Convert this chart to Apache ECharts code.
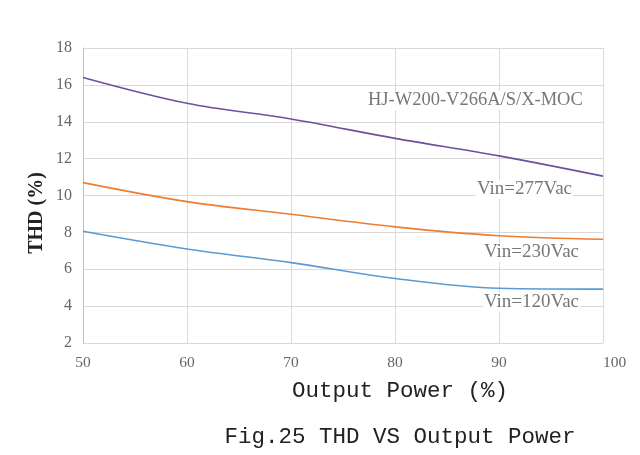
<!DOCTYPE html>
<html><head><meta charset="utf-8">
<script src="https://cdn.jsdelivr.net/npm/echarts@6/dist/echarts.min.js"></script>
<style>html,body{margin:0;padding:0;background:#fff}#c{width:640px;height:455px}</style>
</head><body><div id="c"></div>
<script>
const power = [50, 60, 70, 80, 90, 100];
const thd277 = [16.4, 15.0, 14.15, 13.1, 12.15, 11.05];
const thd230 = [10.7, 9.67, 8.98, 8.3, 7.82, 7.63];
const thd120 = [8.06, 7.1, 6.36, 5.5, 4.97, 4.92];
const seriesNames = ['Vin=277Vac', 'Vin=230Vac', 'Vin=120Vac'];
const modelName = 'HJ-W200-V266A/S/X-MOC';
const xTitle = 'Output Power (%)';
const yTitle = 'THD (%)';
const caption = 'Fig.25 THD VS Output Power';

const chart = echarts.init(document.getElementById('c'));
const pairs = arr => power.map((p, i) => [p, arr[i]]);
const mk = (name, data, color) => ({
  name, type: 'line', smooth: 0.35, symbol: 'none', data: pairs(data),
  lineStyle: { color, width: 1.6 }, z: 3
});
const serif = 'Liberation Serif';
const note = (text, left, top, size) => ({
  type: 'text', left, top, z: 10,
  style: { text, fill: '#777', font: size + 'px "Liberation Serif"', backgroundColor: '#fff', padding: [0, 1] }
});
chart.setOption({
  animation: false,
  backgroundColor: '#fff',
  grid: { left: 83, right: 37, top: 48, bottom: 112 },
  xAxis: {
    type: 'value', min: 50, max: 100, interval: 10,
    axisLine: { show: false }, axisTick: { show: false },
    splitLine: { show: true, lineStyle: { color: '#d9d9d9', width: 1 } },
    axisLabel: { color: '#666', fontFamily: serif, fontSize: 15.5, margin: 12, alignMaxLabel: 'left' }
  },
  yAxis: {
    type: 'value', min: 2, max: 18, interval: 2,
    axisLine: { show: true, lineStyle: { color: '#bfbfbf' } }, axisTick: { show: false },
    splitLine: { show: true, lineStyle: { color: '#d9d9d9', width: 1 } },
    axisLabel: { color: '#666', fontFamily: serif, fontSize: 16, margin: 11 }
  },
  series: [
    mk(seriesNames[0], thd277, '#6f4f9f'),
    mk(seriesNames[1], thd230, '#ed7d31'),
    mk(seriesNames[2], thd120, '#5b9bd5')
  ],
  graphic: [
    note(modelName, 367, 91, 18.5),
    note(seriesNames[0], 476, 180, 19),
    note(seriesNames[1], 483, 243, 19),
    note(seriesNames[2], 483, 293, 19),
    { type: 'text', x: 400, y: 391, style: { text: xTitle, fill: '#222', font: '22.5px "Liberation Mono"', align: 'center', verticalAlign: 'middle' } },
    { type: 'text', x: 400, y: 437, style: { text: caption, fill: '#222', font: '22.5px "Liberation Mono"', align: 'center', verticalAlign: 'middle' } },
    { type: 'text', x: 37, y: 213, rotation: Math.PI / 2, style: { text: yTitle, fill: '#222', font: 'bold 20px "Liberation Serif"', align: 'center', verticalAlign: 'middle' } }
  ]
});
</script></body></html>
